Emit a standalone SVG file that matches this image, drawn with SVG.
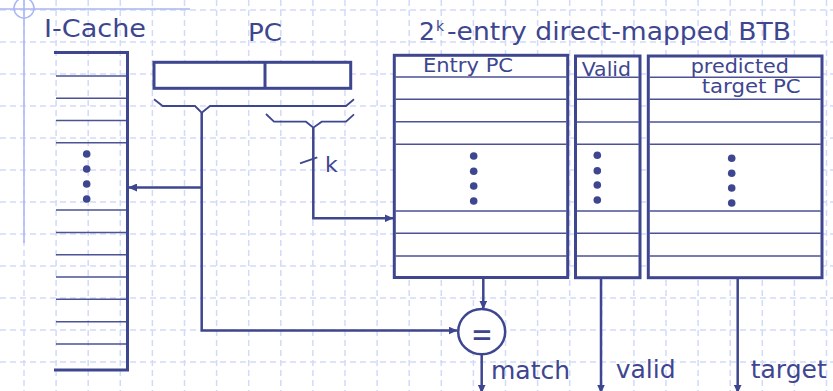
<svg xmlns="http://www.w3.org/2000/svg" width="833" height="391" viewBox="0 0 833 391">
<defs>
<style>
.grid{fill:none;stroke:#d2daf9;stroke-width:1.5;stroke-dasharray:6 4}
.guide{fill:none;stroke:#a9b6f2;stroke-width:1.5}
.box{fill:#fff;stroke:#3e4690;stroke-width:3}
.open{fill:none;stroke:#3e4690;stroke-width:3}
.row{fill:none;stroke:#4c5395;stroke-width:1.6}
.thin{fill:none;stroke:#3e4690;stroke-width:1.8}
.wire{fill:none;stroke:#3e4690;stroke-width:2.5}
.dot{fill:#3e4690}
text{font-family:"DejaVu Sans","Verdana",sans-serif;fill:#3e4690}
</style>
<marker id="ah" viewBox="0 0 9 8" refX="8.5" refY="4" markerWidth="9" markerHeight="8" markerUnits="userSpaceOnUse" orient="auto">
<path d="M0,0 L9,4 L0,8 z" fill="#3e4690"/>
</marker>
</defs>
<rect width="833" height="391" fill="#fff"/>
<g id="grid">
<path class="grid" d="M24,0V391 M56.1,0V391 M88.2,0V391 M120.3,0V391 M152.4,0V391 M184.5,0V391 M216.6,0V391 M248.7,0V391 M280.8,0V391 M312.9,0V391 M345,0V391 M377.1,0V391 M409.2,0V391 M441.3,0V391 M473.4,0V391 M505.5,0V391 M537.6,0V391 M569.7,0V391 M601.8,0V391 M633.9,0V391 M666,0V391 M698.1,0V391 M730.2,0V391 M762.3,0V391 M794.4,0V391 M826.5,0V391 M0,10H833 M0,42H833 M0,74H833 M0,106H833 M0,138H833 M0,170H833 M0,202H833 M0,234H833 M0,266H833 M0,298H833 M0,330H833 M0,362H833"/>
<path class="guide" d="M24,0V243 M0,9H190"/>
<circle class="guide" cx="24" cy="8" r="10"/>
</g>
<g id="titles">
<text x="44" y="37" font-size="24" textLength="102" lengthAdjust="spacingAndGlyphs">I-Cache</text>
<text x="248" y="41" font-size="24" textLength="34" lengthAdjust="spacingAndGlyphs">PC</text>
<text x="419" y="40" font-size="25" textLength="16" lengthAdjust="spacingAndGlyphs">2</text>
<text x="436" y="31" font-size="14">k</text>
<text x="447" y="40" font-size="25" textLength="344" lengthAdjust="spacingAndGlyphs">-entry direct-mapped BTB</text>
</g>
<g id="icache">
<path class="open" d="M54,52.5H127.5V370H54"/>
<path class="row" d="M56,76H126 M56,98.3H126 M56,120.5H126 M56,142.7H126 M56,210H126 M56,232.5H126 M56,254.7H126 M56,277H126 M56,299.3H126 M56,321.7H126 M56,344H126"/>
<circle class="dot" cx="86.7" cy="154" r="3.8"/>
<circle class="dot" cx="86.7" cy="169" r="3.8"/>
<circle class="dot" cx="86.7" cy="184" r="3.8"/>
<circle class="dot" cx="86.7" cy="199" r="3.8"/>
</g>
<g id="pc">
<rect class="box" x="154" y="62.3" width="196.7" height="26"/>
<path class="open" d="M265,62.3V88.3"/>
<path class="thin" d="M154,99.3L162.7,106H195L201.7,112.7L210,106H346L354,99.3"/>
<path class="thin" d="M266,114L274,121.7H306L313.3,127.7L321.7,121.7H346L354,114.3"/>
</g>
<g id="btb-entry-pc">
<rect class="box" x="394.3" y="55.3" width="173.4" height="222.2"/>
<path class="row" d="M395.5,77H566.5 M395.5,99.2H566.5 M395.5,121.8H566.5 M395.5,144.2H566.5 M395.5,211H566.5 M395.5,233.3H566.5 M395.5,256H566.5"/>
<text x="423" y="72" font-size="20" textLength="90" lengthAdjust="spacingAndGlyphs">Entry PC</text>
<circle class="dot" cx="473.7" cy="156" r="3.8"/>
<circle class="dot" cx="473.7" cy="171.3" r="3.8"/>
<circle class="dot" cx="473.7" cy="186" r="3.8"/>
<circle class="dot" cx="473.7" cy="201" r="3.8"/>
</g>
<g id="btb-valid">
<rect class="box" x="575.5" y="56" width="64.5" height="221.7"/>
<path class="row" d="M576.7,77.3H638.8 M576.7,99.3H638.8 M576.7,122H638.8 M576.7,144.3H638.8 M576.7,211H638.8 M576.7,233.3H638.8 M576.7,256H638.8"/>
<text x="581.7" y="76" font-size="20" textLength="49.3" lengthAdjust="spacingAndGlyphs">Valid</text>
<circle class="dot" cx="597.3" cy="155.3" r="3.8"/>
<circle class="dot" cx="597.3" cy="170.7" r="3.8"/>
<circle class="dot" cx="597.3" cy="185" r="3.8"/>
<circle class="dot" cx="597.3" cy="200" r="3.8"/>
</g>
<g id="btb-target">
<rect class="box" x="648.3" y="56" width="173.7" height="221.7"/>
<path class="row" d="M649.5,77.3H820.8 M649.5,99.3H820.8 M649.5,122H820.8 M649.5,144.3H820.8 M649.5,211H820.8 M649.5,233.3H820.8 M649.5,256H820.8"/>
<text x="690.7" y="73" font-size="20" textLength="98.3" lengthAdjust="spacingAndGlyphs">predicted</text>
<text x="701.7" y="93" font-size="20" textLength="99" lengthAdjust="spacingAndGlyphs">target PC</text>
<circle class="dot" cx="731.7" cy="158.3" r="3.8"/>
<circle class="dot" cx="731.7" cy="173.3" r="3.8"/>
<circle class="dot" cx="731.7" cy="188" r="3.8"/>
<circle class="dot" cx="731.7" cy="203" r="3.8"/>
</g>
<g id="comparator">
<ellipse cx="481.7" cy="331.7" rx="23.5" ry="22.6" fill="#fff" stroke="#3e4690" stroke-width="2.5"/>
<text x="482" y="343" font-size="26" text-anchor="middle" transform="translate(0,-110) scale(1,1.33)">=</text>
</g>
<g id="connectors">
<path class="wire" d="M201.7,112.7V330.5H457" marker-end="url(#ah)"/>
<path class="wire" d="M201.7,187.5H128.5" marker-end="url(#ah)"/>
<path class="wire" d="M313.3,127.7V218.3H393" marker-end="url(#ah)"/>
<path class="thin" d="M300,163.3L317.3,157.3"/>
<path class="wire" d="M483.3,278V309" marker-end="url(#ah)"/>
<path class="wire" d="M481.7,354.3V393" marker-end="url(#ah)"/>
<path class="wire" d="M601,278V393" marker-end="url(#ah)"/>
<path class="wire" d="M737.7,278V393" marker-end="url(#ah)"/>
</g>
<g id="labels">
<text x="325" y="172" font-size="22">k</text>
<text x="491" y="379" font-size="25">match</text>
<text x="615.7" y="377.5" font-size="25">valid</text>
<text x="750.7" y="377.5" font-size="25">target</text>
</g>
</svg>
